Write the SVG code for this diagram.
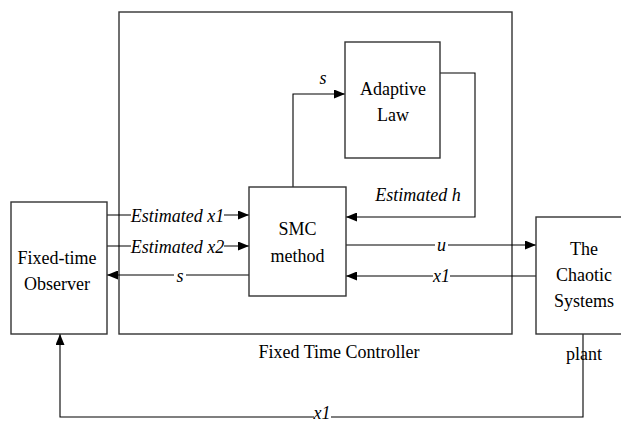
<svg xmlns="http://www.w3.org/2000/svg" width="621" height="423" viewBox="0 0 621 423">
<defs>
<marker id="ah" markerWidth="11" markerHeight="9" refX="11" refY="4.5" orient="auto" markerUnits="userSpaceOnUse">
<path d="M0,0 L11,4.5 L0,9 Z" fill="#000"/>
</marker>
<style>
.box{fill:#fff;stroke:#333;stroke-width:1.4}
.frame{fill:none;stroke:#333;stroke-width:1.4}
.ln{fill:none;stroke:#000;stroke-width:1.1}
.t{font-family:"Liberation Serif",serif;font-size:18px;fill:#000;text-anchor:middle}
.i{font-style:italic}
.bg{fill:#fff}
</style>
</defs>
<rect width="621" height="423" fill="#fff"/>
<g id="controller-frame">
<rect class="frame" x="119" y="12" width="393" height="322"/>
<text class="t" x="339" y="358">Fixed Time Controller</text>
</g>
<g id="plant-label">
<text class="t" x="584" y="360">plant</text>
</g>
<g id="connectors">
<path class="ln" d="M107,215 H249" marker-end="url(#ah)"/>
<path class="ln" d="M107,246 H249" marker-end="url(#ah)"/>
<path class="ln" d="M249,275 H107" marker-end="url(#ah)"/>
<path class="ln" d="M293,187 V94 H345" marker-end="url(#ah)"/>
<path class="ln" d="M440,73 H475 V217 H346" marker-end="url(#ah)"/>
<path class="ln" d="M346,245 H536" marker-end="url(#ah)"/>
<path class="ln" d="M536,276 H346" marker-end="url(#ah)"/>
<path class="ln" d="M583,334 V417 H60 V334" marker-end="url(#ah)"/>
<rect class="bg" x="131" y="205" width="93" height="20"/>
<rect class="bg" x="131" y="236" width="93" height="20"/>
<rect class="bg" x="174" y="266" width="12" height="18"/>
<rect class="bg" x="435" y="236" width="13" height="18"/>
<rect class="bg" x="433" y="266" width="17" height="18"/>
<rect class="bg" x="314" y="408" width="17" height="13"/>
<text class="t i" x="177.5" y="222">Estimated x1</text>
<text class="t i" x="177.5" y="253">Estimated x2</text>
<text class="t i" x="180" y="282">s</text>
<text class="t i" x="323" y="84">s</text>
<text class="t i" x="418" y="201">Estimated h</text>
<text class="t i" x="441.5" y="251">u</text>
<text class="t i" x="441.5" y="282">x1</text>
<text class="t i" x="322" y="418.5">x1</text>
</g>
<g id="observer">
<rect class="box" x="11" y="202" width="96" height="132"/>
<text class="t" x="57" y="264">Fixed-time</text>
<text class="t" x="57" y="290">Observer</text>
</g>
<g id="smc">
<rect class="box" x="249" y="187" width="97" height="109"/>
<text class="t" x="297.5" y="235">SMC</text>
<text class="t" x="297.5" y="262">method</text>
</g>
<g id="adaptive-law">
<rect class="box" x="345" y="42" width="95" height="116"/>
<text class="t" x="393" y="95">Adaptive</text>
<text class="t" x="393" y="121">Law</text>
</g>
<g id="chaotic-systems">
<rect class="box" x="536" y="217" width="96" height="117"/>
<text class="t" x="584" y="255">The</text>
<text class="t" x="584" y="281">Chaotic</text>
<text class="t" x="584" y="307">Systems</text>
</g>
</svg>
